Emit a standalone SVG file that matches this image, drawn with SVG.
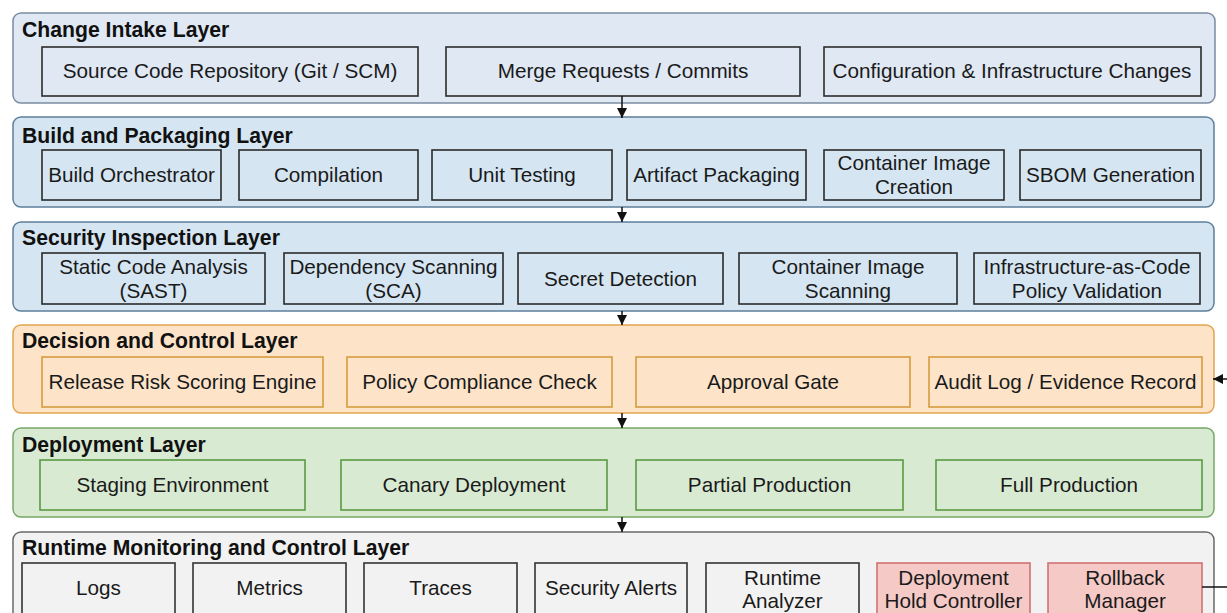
<svg xmlns="http://www.w3.org/2000/svg" width="1227" height="613" viewBox="0 0 1227 613">
<defs>
<marker id="ah" viewBox="0 0 10 10" refX="10" refY="5" markerWidth="10" markerHeight="10" markerUnits="userSpaceOnUse" orient="auto"><path d="M0,0 L10,5 L0,10 z" fill="#111"/></marker>
<style>
.title{font-family:"Liberation Sans",Arial,sans-serif;font-weight:bold;font-size:21.2px;fill:#111}
.t{font-family:"Liberation Sans",Arial,sans-serif;font-size:20.7px;fill:#1a1a1a;text-anchor:middle}
.l1{fill:#dfe8f3;stroke:#7b8ca3;stroke-width:1.5}
.l2{fill:#d5e6f2;stroke:#5f7f9b;stroke-width:1.5}
.l4{fill:#fde4c9;stroke:#e2a54e;stroke-width:1.5}
.l5{fill:#d9ead3;stroke:#77a867;stroke-width:1.5}
.l6{fill:#f2f2f2;stroke:#6a6a6a;stroke-width:1.5}
.nb{fill:#dfe8f3;stroke:#2b2b2b;stroke-width:1.6}
.nb2{fill:#d5e6f2;stroke:#2b2b2b;stroke-width:1.6}
.no{fill:#fde4c9;stroke:#d49c3c;stroke-width:1.6}
.ng{fill:#d9ead3;stroke:#5a9a42;stroke-width:1.6}
.nw{fill:#f2f2f2;stroke:#333;stroke-width:1.6}
.nr{fill:#f5c9c6;stroke:#d07272;stroke-width:1.6}
.c{stroke:#111;stroke-width:1.5;fill:none}
</style>
</defs>
<rect width="1227" height="613" fill="#ffffff"/>

<g id="layer-intake">
<rect class="l1" x="13" y="13" width="1202" height="90" rx="8"/>
<text class="title" x="22" y="37">Change Intake Layer</text>
</g>
<g id="n-scr"><rect class="nb" x="42" y="47" width="376" height="49"/><text class="t" x="230" y="78">Source Code Repository (Git / SCM)</text></g>
<g id="n-mr"><rect class="nb" x="446" y="47" width="354" height="49"/><text class="t" x="623" y="78">Merge Requests / Commits</text></g>
<g id="n-cfg"><rect class="nb" x="824" y="47" width="377" height="49"/><text class="t" x="1012" y="78">Configuration &amp; Infrastructure Changes</text></g>

<g id="layer-build">
<rect class="l2" x="13" y="117" width="1201" height="90" rx="8"/>
<text class="title" x="22" y="143">Build and Packaging Layer</text>
</g>
<g id="n-bo"><rect class="nb2" x="42" y="150" width="179" height="50"/><text class="t" x="131.5" y="182">Build Orchestrator</text></g>
<g id="n-comp"><rect class="nb2" x="239" y="150" width="179" height="50"/><text class="t" x="328.5" y="182">Compilation</text></g>
<g id="n-unit"><rect class="nb2" x="432" y="150" width="180" height="50"/><text class="t" x="522" y="182">Unit Testing</text></g>
<g id="n-art"><rect class="nb2" x="627" y="150" width="179" height="50"/><text class="t" x="716.5" y="182">Artifact Packaging</text></g>
<g id="n-cic"><rect class="nb2" x="824" y="150" width="180" height="50"/><text class="t" x="914" y="170">Container Image</text><text class="t" x="914" y="194">Creation</text></g>
<g id="n-sbom"><rect class="nb2" x="1020" y="150" width="181" height="50"/><text class="t" x="1110.5" y="182">SBOM Generation</text></g>

<g id="layer-security">
<rect class="l2" x="13" y="222" width="1201" height="89" rx="8"/>
<text class="title" x="22" y="245">Security Inspection Layer</text>
</g>
<g id="n-sast"><rect class="nb2" x="42" y="253" width="223" height="51"/><text class="t" x="153.5" y="274">Static Code Analysis</text><text class="t" x="153.5" y="298">(SAST)</text></g>
<g id="n-sca"><rect class="nb2" x="284" y="253" width="219" height="51"/><text class="t" x="393.5" y="274">Dependency Scanning</text><text class="t" x="393.5" y="298">(SCA)</text></g>
<g id="n-secret"><rect class="nb2" x="518" y="253" width="205" height="51"/><text class="t" x="620.5" y="286">Secret Detection</text></g>
<g id="n-cis"><rect class="nb2" x="739" y="253" width="218" height="51"/><text class="t" x="848" y="274">Container Image</text><text class="t" x="848" y="298">Scanning</text></g>
<g id="n-iac"><rect class="nb2" x="974" y="253" width="226" height="51"/><text class="t" x="1087" y="274">Infrastructure-as-Code</text><text class="t" x="1087" y="298">Policy Validation</text></g>

<g id="layer-decision">
<rect class="l4" x="13" y="325" width="1201" height="88" rx="8"/>
<text class="title" x="22" y="348">Decision and Control Layer</text>
</g>
<g id="n-risk"><rect class="no" x="42" y="357" width="281" height="50"/><text class="t" x="182.5" y="389">Release Risk Scoring Engine</text></g>
<g id="n-policy"><rect class="no" x="347" y="357" width="265" height="50"/><text class="t" x="479.5" y="389">Policy Compliance Check</text></g>
<g id="n-approval"><rect class="no" x="636" y="357" width="274" height="50"/><text class="t" x="773" y="389">Approval Gate</text></g>
<g id="n-audit"><rect class="no" x="929" y="357" width="273" height="50"/><text class="t" x="1065.5" y="389">Audit Log / Evidence Record</text></g>

<g id="layer-deploy">
<rect class="l5" x="13" y="428" width="1201" height="89" rx="8"/>
<text class="title" x="22" y="452">Deployment Layer</text>
</g>
<g id="n-staging"><rect class="ng" x="40" y="460" width="265" height="50"/><text class="t" x="172.5" y="492">Staging Environment</text></g>
<g id="n-canary"><rect class="ng" x="341" y="460" width="266" height="50"/><text class="t" x="474" y="492">Canary Deployment</text></g>
<g id="n-partial"><rect class="ng" x="636" y="460" width="267" height="50"/><text class="t" x="769.5" y="492">Partial Production</text></g>
<g id="n-full"><rect class="ng" x="936" y="460" width="266" height="50"/><text class="t" x="1069" y="492">Full Production</text></g>

<g id="layer-runtime">
<rect class="l6" x="13" y="532" width="1201" height="100" rx="8"/>
<text class="title" x="22" y="555">Runtime Monitoring and Control Layer</text>
</g>
<g id="n-logs"><rect class="nw" x="22" y="563" width="153" height="56"/><text class="t" x="98.5" y="595">Logs</text></g>
<g id="n-metrics"><rect class="nw" x="193" y="563" width="153" height="56"/><text class="t" x="269.5" y="595">Metrics</text></g>
<g id="n-traces"><rect class="nw" x="364" y="563" width="153" height="56"/><text class="t" x="440.5" y="595">Traces</text></g>
<g id="n-alerts"><rect class="nw" x="535" y="563" width="152" height="56"/><text class="t" x="611" y="595">Security Alerts</text></g>
<g id="n-analyzer"><rect class="nw" x="706" y="563" width="153" height="56"/><text class="t" x="782.5" y="585">Runtime</text><text class="t" x="782.5" y="608">Analyzer</text></g>
<g id="n-hold"><rect class="nr" x="877" y="563" width="153" height="56"/><text class="t" x="953.5" y="585">Deployment</text><text class="t" x="953.5" y="608">Hold Controller</text></g>
<g id="n-rollback"><rect class="nr" x="1048" y="563" width="154" height="56"/><text class="t" x="1125" y="585">Rollback</text><text class="t" x="1125" y="608">Manager</text></g>

<g id="connectors">
<line class="c" x1="622" y1="96" x2="622" y2="118" marker-end="url(#ah)"/>
<line class="c" x1="622" y1="207" x2="622" y2="222" marker-end="url(#ah)"/>
<line class="c" x1="622" y1="311" x2="622" y2="325" marker-end="url(#ah)"/>
<line class="c" x1="622" y1="413" x2="622" y2="428" marker-end="url(#ah)"/>
<line class="c" x1="622" y1="517" x2="622" y2="532" marker-end="url(#ah)"/>
<line class="c" x1="1202" y1="587" x2="1227" y2="587"/>
<line class="c" x1="1227" y1="379" x2="1213" y2="379" marker-end="url(#ah)"/>
</g>
</svg>
